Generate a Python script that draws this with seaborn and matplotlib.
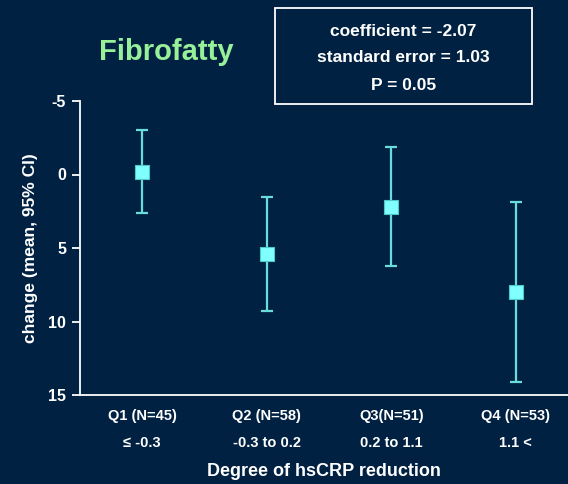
import matplotlib
matplotlib.use("Agg")
import matplotlib.pyplot as plt
from matplotlib.patches import Rectangle
import seaborn as sns
import pandas as pd
import numpy as np

# Data
categories = ["Q1 (N=45)\n≤ -0.3", "Q2 (N=58)\n-0.3 to 0.2", "Q3(N=51)\n0.2 to 1.1", "Q4 (N=53)\n1.1 <"]
means = [-0.2, 5.4, 2.2, 8.0]
ci_low = [-3.0, 1.5, -1.9, 1.9]
ci_high = [2.6, 9.3, 6.2, 14.1]
y_ticks = [-5, 0, 5, 10, 15]
stats_lines = ["coefficient = -2.07", "standard error = 1.03", "P = 0.05"]

BG = "#002142"
FG = "white"
PT = "#80FFFF"
EB = "#6ADCDC"

sns.set_theme(style="white")
plt.rcParams["font.family"] = ["Liberation Sans", "DejaVu Sans"]
plt.rcParams["font.weight"] = "bold"

df = pd.DataFrame({"group": categories, "mean": means})

fig = plt.figure(figsize=(5.68, 4.84), dpi=100, facecolor=BG)
ax = fig.add_axes([80/568, 1-395/484, 488/568, (395-101)/484])
ax.set_facecolor(BG)

x = np.arange(len(categories))
yerr = [np.array(means) - np.array(ci_low), np.array(ci_high) - np.array(means)]
ax.errorbar(x, means, yerr=yerr, fmt="none", ecolor=EB, elinewidth=1.6,
            capsize=4.5, capthick=1.6, zorder=2)
sns.scatterplot(data=df, x="group", y="mean", marker="s", s=95, color=PT,
                edgecolor="#4FC8C8", linewidth=0.8, ax=ax, zorder=3)

ax.set_ylim(15, -5)
ax.set_xlim(-0.498, 3.419)
ax.set_yticks(y_ticks)
ax.set_yticklabels([str(t) for t in y_ticks], fontsize=11.5, fontweight="bold", color=FG)
ax.set_xticks(x)
ax.set_xticklabels(categories, fontsize=10.5, fontweight="bold", color=FG, linespacing=2.2)

for s in ["top", "right"]:
    ax.spines[s].set_visible(False)
for s in ["left", "bottom"]:
    ax.spines[s].set_color(FG)
    ax.spines[s].set_linewidth(1.3)
ax.tick_params(axis="y", direction="out", length=6, width=1.3, color=FG, pad=4, left=True)
ax.tick_params(axis="x", length=0, pad=10)

ax.set_xlabel("Degree of hsCRP reduction", fontsize=13, fontweight="bold", color=FG, labelpad=9)
ax.set_ylabel("change (mean, 95% CI)", fontsize=12.5, fontweight="bold", color=FG, labelpad=7)

fig.text(166/568, 1-52/484, "Fibrofatty", fontsize=21, fontweight="bold",
         color="#98F098", ha="center", va="center")

fig.patches.append(Rectangle((275/568, 1-104/484), 257/568, 96/484,
                             transform=fig.transFigure, fill=False,
                             edgecolor=FG, linewidth=1.3))
for yy, line in zip([32, 58, 85], stats_lines):
    fig.text(403.5/568, 1-yy/484, line, fontsize=12.5, fontweight="bold",
             color=FG, ha="center", va="center")

fig.savefig("out.png", dpi=100, facecolor=BG)
